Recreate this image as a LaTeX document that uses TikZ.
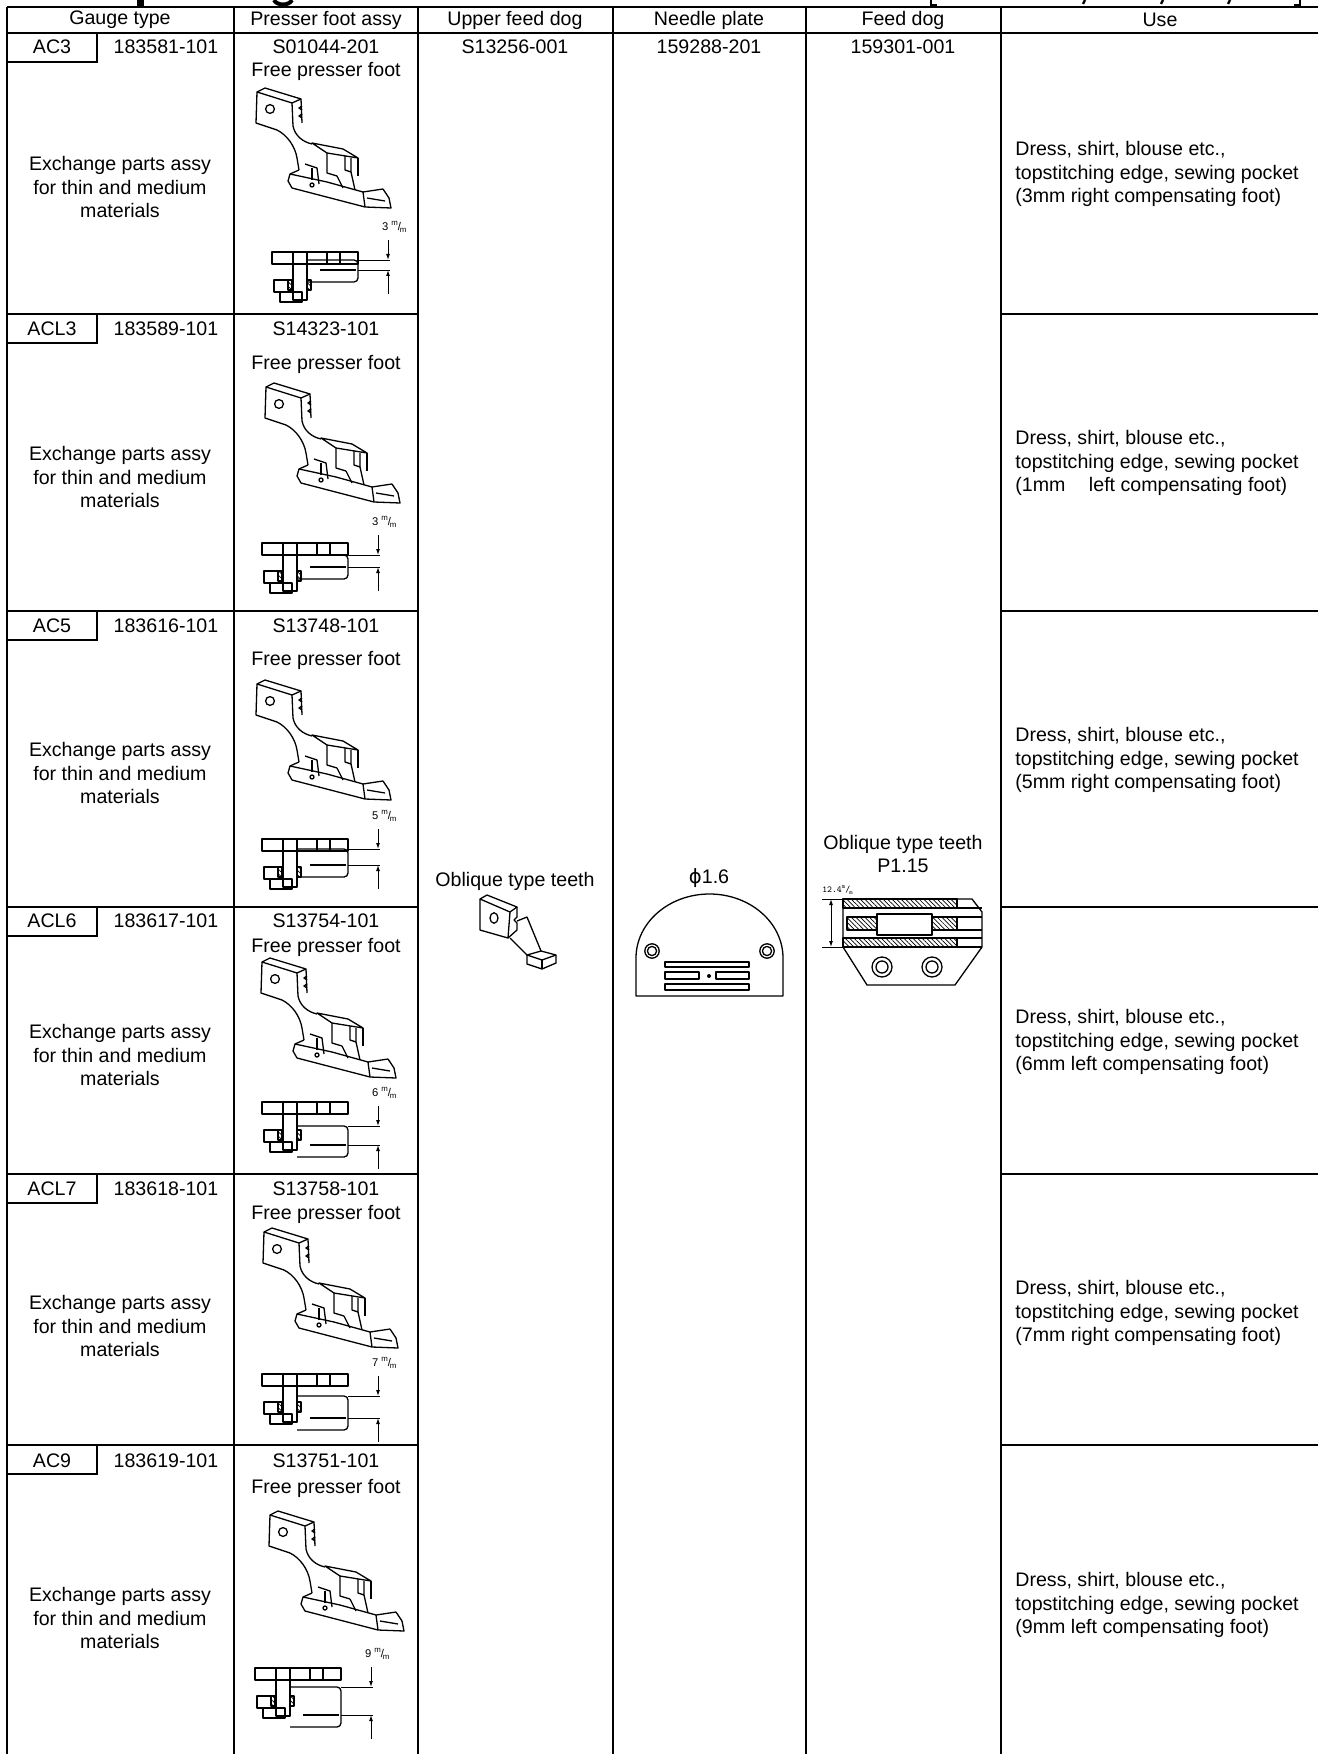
\documentclass[tikz,border=0pt]{standalone}
\usepackage{fontspec}
\setmainfont{Liberation Sans}
\newfontfamily\symfont{DejaVu Sans}
\usetikzlibrary{arrows, arrows.meta}
\usetikzlibrary{patterns, patterns.meta}

\newcommand{\mmark}{\textsuperscript{m}\kern-0.1em/\kern-0.1em\textsubscript{m}}

\tikzset{
  cell/.style={font=\fontsize{9.8}{11.65}\selectfont, inner sep=0pt, align=center},
  usetext/.style={cell, align=left, anchor=west},
  rule/.style={line width=1.3pt},
  part/.style={line width=0.65pt, line join=round},
  dimtext/.style={font=\fontsize{5.6}{6}\selectfont, inner sep=0pt},
  hatch/.style={pattern={Lines[angle=-45, distance=1.6pt, line width=0.35pt]}},
  dimarrow/.style={-{Latex[length=3pt, width=2pt]}, line width=0.5pt},
}

% side view of a presser foot, #1,#2 = upper left corner
\newcommand{\footside}[2]{%
  \begin{scope}[shift={(#1,#2)}, part]
    \draw (2,4) -- (10,0) -- (46,11) -- (37,15) -- cycle;
    \draw (2,4) -- (1,35) -- (22,42);
    \draw (37,15) -- (38,38);
    \draw (46,11) -- (47,35);
    \draw (47,18) -- (44,20) -- (47,22) (47,26) -- (44,28) -- (47,30);
    \draw (15,21) circle[radius=2.2pt];
    \draw (22,42) .. controls (32,47) and (40,58) .. (42,70) -- (44,82);
    \draw (38,38) .. controls (40,48) and (48,54) .. (57,56);
    \draw (57,55) -- (88,61) -- (103,70) -- (72,65) -- cycle;
    \draw (72,65) -- (72,85) -- (82,88);
    \draw (103,70) -- (103,88);
    \draw (90,68) -- (90,82) -- (96,84) -- (96,70);
    \draw (44,82) -- (35,86) -- (33,93) -- (37,100) -- (110,119) -- (136,120) -- (134,110) -- (128,101);
    \draw (35,86) -- (72,94) -- (108,104) -- (128,101);
    \draw (50,76) -- (62,80) -- (64,96);
    \draw (57,80) -- (57,92);
    \draw (57,97) circle[radius=1pt];
    \draw (82,88) -- (88,100) (96,84) -- (100,102);
    \draw (108,104) -- (110,119);
    \draw (112,110) -- (130,113);
  \end{scope}}

% plan of a presser foot: x, y, arm offset, gap, mm, node name
\newcommand{\footplan}[6]{%
  \begin{scope}[shift={(#1,#2)}, part]
    \draw (0,0) rectangle (86,12);
    \foreach \u in {21,35,55,68} \draw (\u,0) -- (\u,12);
    \draw (21,12) -- (21,48) -- (35,48) -- (35,12);
    \draw (2,28) rectangle (21,40);
    \draw (8,40) rectangle (30,50);
    \draw[hatch] (16,28) rectangle (20,38) (35,28) rectangle (39,38);
    \draw[rounded corners=2pt] (35,#3) -- (86,#3) -- (86,#3+#4+12) -- (35,#3+#4+12);
    \draw (48,#3+#4) -- (84,#3+#4);
    \draw[line width=0.4pt] (86,#3) -- (118,#3) (86,#3+#4) -- (118,#3+#4);
    \draw[dimarrow] (116,#3-20) -- (116,#3);
    \draw[dimarrow] (116,#3+#4+24) -- (116,#3+#4);
    \node[dimtext, anchor=east] (#6) at (136,#3-33) {#5 \mmark};
  \end{scope}}

\begin{document}
\begin{tikzpicture}[x=0.5pt, y=-0.5pt]
  \useasboundingbox (0,0) rectangle (1318,1754);

  % bottom of the cut title line
  \fill (137,0) rectangle (144,6);
  \draw[line width=2pt] (274,0) .. controls (277,6) and (289,6) .. (292,0);
  \draw[line width=1pt] (931,0) -- (931,5) -- (937,5);
  \draw[line width=1pt] (1300,0) -- (1300,5) -- (1294,5);
  \foreach \k in {1085,1163,1230} \draw[line width=1.2pt] (\k,0) -- (\k-2,4);

  \draw[rule] (7,7) -- (1318,7);
  \draw[rule] (7,33) -- (1318,33);
  \foreach \c in {7,234,418,613,806,1001} \draw[rule] (\c,7) -- (\c,1754);
  \foreach \t in {314,611,907,1174,1445} {
    \draw[rule] (7,\t) -- (418,\t);
    \draw[rule] (1001,\t) -- (1318,\t);
  }
  \foreach \t in {33,314,611,907,1174,1445} \draw[rule] (7,\t+29) -| (97,\t);

  \node[cell] (hgauge) at (120,20) {Gauge type};
  \node[cell] (hfoot) at (326,20) {Presser foot assy};
  \node[cell] (hupper) at (515,20) {Upper feed dog};
  \node[cell] (hplate) at (709,20) {Needle plate};
  \node[cell] (hdog) at (903,20) {Feed dog};
  \node[cell] (huse) at (1160,20) {Use};

  % AC3
  \node[cell] (ac3) at (52,47) {AC3};
  \node[cell] (ac3no) at (166,47) {183581-101};
  \node[cell] (ac3foot) at (326,47) {S01044-201};
  \node[cell] (ac3free) at (326,71) {Free presser foot};
  \node[cell] (ac3ex) at (120,187) {Exchange parts assy\\for thin and medium\\materials};
  \node[usetext] (ac3use) at (1015,174) {Dress, shirt, blouse etc.,\\topstitching edge, sewing pocket\\(3mm right compensating foot)};
  \footside{255}{88}
  \footplan{272}{252}{8}{10}{3}{ac3mm}

  % ACL3
  \node[cell] (acl3) at (52,329) {ACL3};
  \node[cell] (acl3no) at (166,329) {183589-101};
  \node[cell] (acl3foot) at (326,329) {S14323-101};
  \node[cell] (acl3free) at (326,364) {Free presser foot};
  \node[cell] (acl3ex) at (120,477) {Exchange parts assy\\for thin and medium\\materials};
  \node[usetext] (acl3use) at (1015,463) {Dress, shirt, blouse etc.,\\topstitching edge, sewing pocket\\(1mm\hspace{1.2em}left compensating foot)};
  \footside{264}{383}
  \footplan{262}{543}{12}{12}{3}{acl3mm}

  % AC5
  \node[cell] (ac5) at (52,626) {AC5};
  \node[cell] (ac5no) at (166,626) {183616-101};
  \node[cell] (ac5foot) at (326,626) {S13748-101};
  \node[cell] (ac5free) at (326,660) {Free presser foot};
  \node[cell] (ac5ex) at (120,773) {Exchange parts assy\\for thin and medium\\materials};
  \node[usetext] (ac5use) at (1015,760) {Dress, shirt, blouse etc.,\\topstitching edge, sewing pocket\\(5mm right compensating foot)};
  \footside{255}{680}
  \footplan{262}{839}{10}{16}{5}{ac5mm}

  % ACL6
  \node[cell] (acl6) at (52,921) {ACL6};
  \node[cell] (acl6no) at (166,921) {183617-101};
  \node[cell] (acl6foot) at (326,921) {S13754-101};
  \node[cell] (acl6free) at (326,947) {Free presser foot};
  \node[cell] (acl6ex) at (120,1055) {Exchange parts assy\\for thin and medium\\materials};
  \node[usetext] (acl6use) at (1015,1042) {Dress, shirt, blouse etc.,\\topstitching edge, sewing pocket\\(6mm left compensating foot)};
  \footside{260}{958}
  \footplan{262}{1102}{24}{19}{6}{acl6mm}

  % ACL7
  \node[cell] (acl7) at (52,1189) {ACL7};
  \node[cell] (acl7no) at (166,1189) {183618-101};
  \node[cell] (acl7foot) at (326,1189) {S13758-101};
  \node[cell] (acl7free) at (326,1214) {Free presser foot};
  \node[cell] (acl7ex) at (120,1326) {Exchange parts assy\\for thin and medium\\materials};
  \node[usetext] (acl7use) at (1015,1313) {Dress, shirt, blouse etc.,\\topstitching edge, sewing pocket\\(7mm right compensating foot)};
  \footside{262}{1228}
  \footplan{262}{1374}{22}{22}{7}{acl7mm}

  % AC9
  \node[cell] (ac9) at (52,1461) {AC9};
  \node[cell] (ac9no) at (166,1461) {183619-101};
  \node[cell] (ac9foot) at (326,1461) {S13751-101};
  \node[cell] (ac9free) at (326,1488) {Free presser foot};
  \node[cell] (ac9ex) at (120,1618) {Exchange parts assy\\for thin and medium\\materials};
  \node[usetext] (ac9use) at (1015,1605) {Dress, shirt, blouse etc.,\\topstitching edge, sewing pocket\\(9mm left compensating foot)};
  \footside{268}{1511}
  \footplan{255}{1668}{19}{28}{9}{ac9mm}

  % upper feed dog
  \node[cell] (upperno) at (515,47) {S13256-001};
  \node[cell] (upperteeth) at (515,881) {Oblique type teeth};
  \begin{scope}[part]
    \draw (480,899) -- (487,895) -- (517,907) -- (510,912) -- cycle;
    \draw (480,899) -- (480,930) -- (508,938) -- (510,912);
    \draw (517,907) -- (517,917) -- (514,920) -- (517,923) -- (517,930) -- (508,938);
    \draw (494,918) ellipse[x radius=2pt, y radius=2.6pt];
    \draw (517,921) -- (527,917) -- (541,951);
    \draw (510,938) -- (527,955);
    \draw (527,955) -- (541,951) -- (556,955) -- (542,960) -- cycle;
    \draw (527,955) -- (527,964) -- (542,969) -- (556,963) -- (556,955);
    \draw (542,960) -- (542,969);
  \end{scope}

  % needle plate
  \node[cell] (plateno) at (709,47) {159288-201};
  \node[cell] (platedia) at (709,878) {{\symfont ϕ}1.6};
  \begin{scope}[part]
    \draw (636,996) -- (636,958) arc[start angle=180, end angle=0, x radius=36.75pt, y radius=32pt] -- (783,996) -- cycle;
    \foreach \h in {652,767} {
      \draw (\h,951) circle[radius=3.6pt];
      \draw (\h,951) circle[radius=2.3pt];
    }
    \draw (665,962) rectangle (749,967);
    \draw (665,972) rectangle (699,979);
    \draw (716,972) rectangle (749,979);
    \draw (665,984) rectangle (749,990);
    \fill (709,976) circle[radius=1pt];
  \end{scope}

  % feed dog
  \node[cell] (dogno) at (903,47) {159301-001};
  \node[cell] (dogteeth) at (903,854) {Oblique type teeth\\P1.15};
  \node[dimtext, font=\ttfamily\fontsize{4.6}{5}\selectfont] (dogh) at (838,890) {12.4\mmark};
  \begin{scope}[part]
    \draw (843,899) -- (972,899) -- (982,912) -- (982,947) -- (955,985) -- (867,985) -- (843,947) -- cycle;
    \draw[hatch] (843,899) rectangle (957,908);
    \draw[hatch] (847,917) rectangle (877,930);
    \draw[hatch] (932,917) rectangle (957,930);
    \draw[hatch] (843,938) rectangle (957,947);
    \draw (843,908) -- (982,908) (843,938) -- (982,938);
    \draw (877,914) rectangle (932,935);
    \draw (957,917) -- (982,917) (957,930) -- (982,930);
    \draw (843,947) -- (982,947);
    \foreach \h in {882,932} {
      \draw (\h,967) circle[radius=5pt];
      \draw (\h,967) circle[radius=3pt];
    }
    \draw[line width=0.4pt] (822,899) -- (843,899) (822,947) -- (843,947);
    \draw[{Latex[length=3pt, width=2pt]}-{Latex[length=3pt, width=2pt]}, line width=0.5pt] (831,899) -- (831,947);
  \end{scope}
\end{tikzpicture}
\end{document}
